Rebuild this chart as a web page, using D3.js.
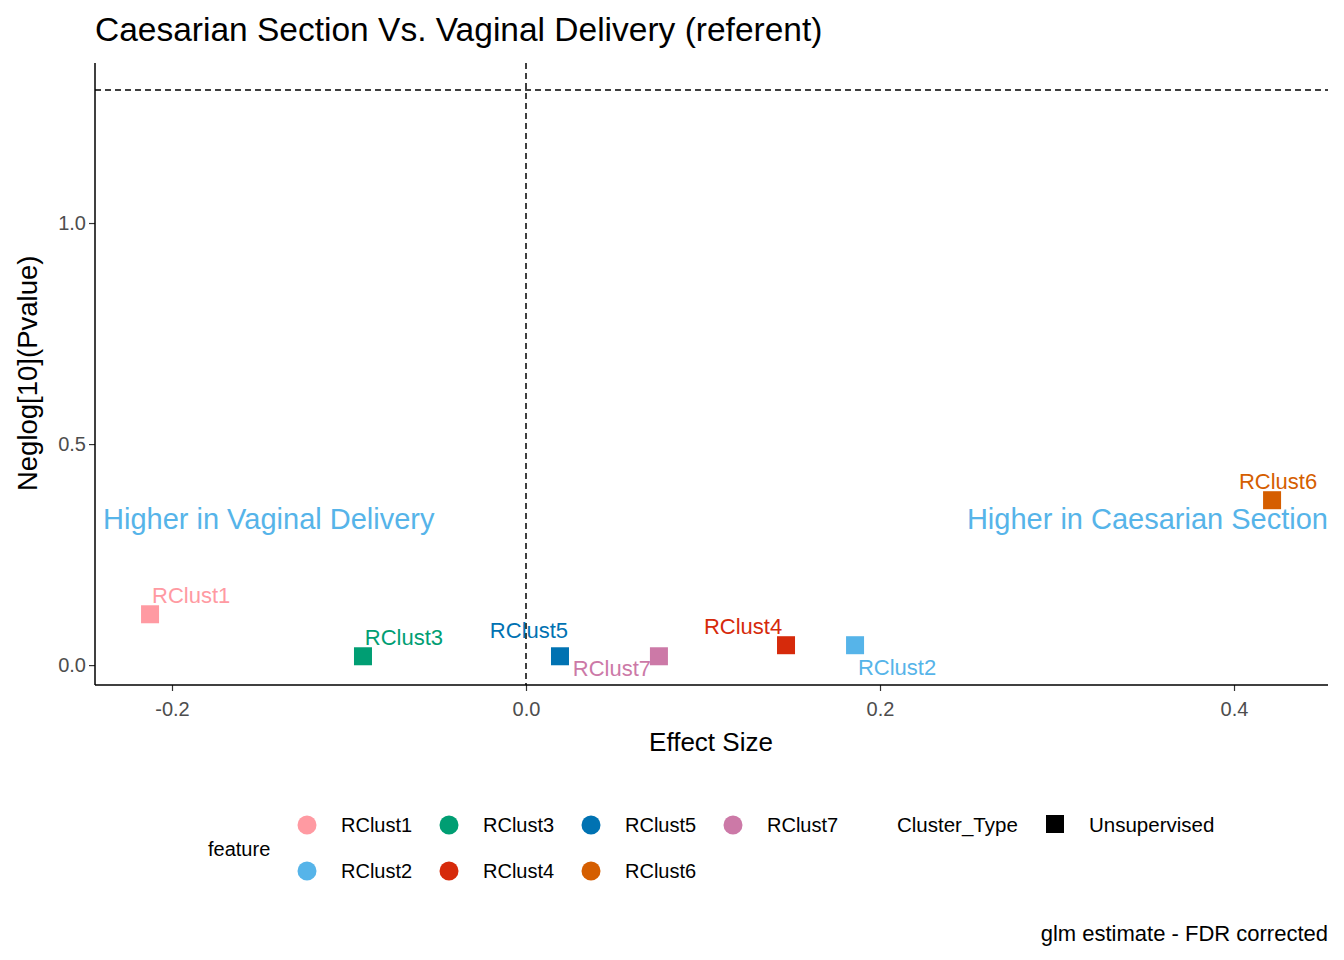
<!DOCTYPE html>
<html><head><meta charset="utf-8">
<script src="https://cdn.jsdelivr.net/npm/d3@7"></script>
<style>body{margin:0;background:#fff;font-family:"Liberation Sans",Arial,sans-serif;}</style>
</head><body><svg id="chart"></svg>
<script>
// data
const features = ['RClust1', 'RClust3', 'RClust5', 'RClust7', 'RClust4', 'RClust2', 'RClust6'];
const effect = [-0.2124, -0.0921, 0.0192, 0.0751, 0.1469, 0.1859, 0.4215];
const negLogP = [0.115, 0.020, 0.020, 0.020, 0.045, 0.045, 0.373];
const legendOrder = ['RClust1', 'RClust2', 'RClust3', 'RClust4', 'RClust5', 'RClust6', 'RClust7'];
const colors = {RClust1: '#FF9AA2', RClust2: '#56B4E9', RClust3: '#009E73', RClust4: '#D62A0B',
    RClust5: '#0072B2', RClust6: '#D55E00', RClust7: '#CC79A7'};
const xTicks = [-0.2, 0.0, 0.2, 0.4];
const yTicks = [0.0, 0.5, 1.0];
// label offsets (px) from the point, like ggrepel placed them
const labelOffsets = [[2, -18], [41, -18], [-31, -25], [-47, 13], [-43, -18], [42, 23], [6, -18]];

const W = 1344, H = 960;
const margin = {top: 63, left: 95, right: 16, bottom: 275};
const svg = d3.select('#chart').attr('width', W).attr('height', H);

const x = d3.scaleLinear().domain([-0.2435, 0.4531]).range([margin.left, W - margin.right]);
const y = d3.scaleLinear().domain([-0.045, 1.362]).range([H - margin.bottom, margin.top]);
const fmt = d => d3.format('.1f')(d).replace('−', '-');

// axes
const xAxis = svg.append('g').attr('transform', `translate(0,${H - margin.bottom})`)
    .call(d3.axisBottom(x).tickValues(xTicks).tickFormat(fmt).tickSizeOuter(0).tickSize(6));
const yAxis = svg.append('g').attr('transform', `translate(${margin.left},0)`)
    .call(d3.axisLeft(y).tickValues(yTicks).tickFormat(fmt).tickSizeOuter(0).tickSize(6));
[xAxis, yAxis].forEach(a => {
    a.select('.domain').remove();
    a.selectAll('.tick line').attr('stroke', '#333').attr('stroke-width', 1.2);
    a.selectAll('.tick text').attr('fill', '#4d4d4d').style('font-size', '20px')
        .style('font-family', '"Liberation Sans",Arial,sans-serif');
});
xAxis.selectAll('.tick text').attr('dy', '1.1em');
svg.append('line').attr('x1', margin.left).attr('x2', W - margin.right)
    .attr('y1', H - margin.bottom).attr('y2', H - margin.bottom).attr('stroke', '#000').attr('stroke-width', 1.5);
svg.append('line').attr('x1', margin.left).attr('x2', margin.left)
    .attr('y1', margin.top).attr('y2', H - margin.bottom).attr('stroke', '#000').attr('stroke-width', 1.5);

// reference lines
svg.append('line').attr('x1', x(0)).attr('x2', x(0)).attr('y1', margin.top).attr('y2', H - margin.bottom)
    .attr('stroke', '#000').attr('stroke-width', 1.5).attr('stroke-dasharray', '6,4');
svg.append('line').attr('x1', margin.left).attr('x2', W - margin.right).attr('y1', y(1.301)).attr('y2', y(1.301))
    .attr('stroke', '#000').attr('stroke-width', 1.5).attr('stroke-dasharray', '6,4');

// annotations
svg.append('text').attr('x', 103).attr('y', 529).text('Higher in Vaginal Delivery')
    .attr('fill', '#56B4E9').style('font-size', '29px');
svg.append('text').attr('x', W - margin.right).attr('y', 529).attr('text-anchor', 'end')
    .text('Higher in Caesarian Section').attr('fill', '#56B4E9').style('font-size', '29px');

// points
const pts = features.map((f, i) => ({f, x: effect[i], y: negLogP[i], off: labelOffsets[i]}));
svg.selectAll('.pt').data(pts).enter().append('rect').attr('class', 'pt')
    .attr('x', d => x(d.x) - 9).attr('y', d => y(d.y) - 9).attr('width', 18).attr('height', 18)
    .attr('fill', d => colors[d.f]);
svg.selectAll('.lbl').data(pts).enter().append('text').attr('class', 'lbl')
    .attr('x', d => x(d.x) + d.off[0]).attr('y', d => y(d.y) + d.off[1] + 7)
    .attr('text-anchor', (d, i) => i === 0 ? 'start' : 'middle')
    .text(d => d.f).attr('fill', d => colors[d.f]).style('font-size', '22px');

// titles
svg.append('text').attr('x', 95).attr('y', 41).text('Caesarian Section Vs. Vaginal Delivery (referent)')
    .style('font-size', '33.5px');
svg.append('text').attr('x', x(0.1045)).attr('y', 751).attr('text-anchor', 'middle')
    .text('Effect Size').style('font-size', '26px');
svg.append('text').attr('transform', `translate(37,${y(0.66)}) rotate(-90)`).attr('text-anchor', 'middle')
    .text('Neglog[10](Pvalue)').style('font-size', '27.5px');
svg.append('text').attr('x', W - margin.right).attr('y', 941).attr('text-anchor', 'end')
    .text('glm estimate - FDR corrected').style('font-size', '22px');

// legend
svg.append('text').attr('x', 208).attr('y', 856).text('feature').style('font-size', '20px');
legendOrder.forEach((f, i) => {
    const col = Math.floor(i / 2), row = i % 2;
    const cx = 307 + col * 142, cy = 825 + row * 46;
    svg.append('circle').attr('cx', cx).attr('cy', cy).attr('r', 9.5).attr('fill', colors[f]);
    svg.append('text').attr('x', cx + 34).attr('y', cy + 7).text(f).style('font-size', '20px');
});
svg.append('text').attr('x', 897).attr('y', 832).text('Cluster_Type').style('font-size', '20.5px');
svg.append('rect').attr('x', 1046).attr('y', 815).attr('width', 18).attr('height', 18).attr('fill', '#000');
svg.append('text').attr('x', 1089).attr('y', 832).text('Unsupervised').style('font-size', '20.5px');
</script></body></html>
